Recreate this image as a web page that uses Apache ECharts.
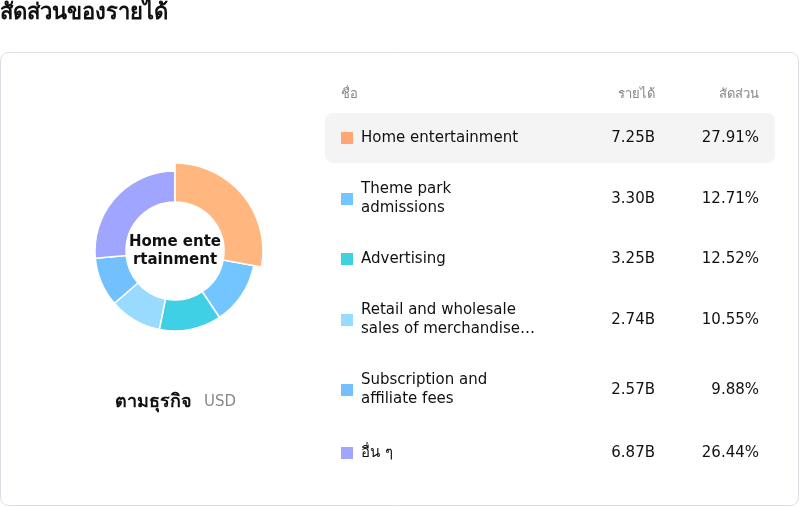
<!DOCTYPE html>
<html><head><meta charset="utf-8">
<script src="https://cdn.jsdelivr.net/npm/echarts@6/dist/echarts.min.js"></script>
<style>html,body{margin:0;padding:0;background:#fff}#c{width:800px;height:507px}</style>
</head><body><div id="c"></div>
<script>
const names = ['Home entertainment','Theme park admissions','Advertising','Retail and wholesale sales of merchandise, food and beverage','Subscription and affiliate fees','อื่น ๆ'];
const labels = [['Home entertainment'],['Theme park','admissions'],['Advertising'],['Retail and wholesale','sales of merchandise…'],['Subscription and','affiliate fees'],['อื่น ๆ']];
const revenue = ['7.25B','3.30B','3.25B','2.74B','2.57B','6.87B'];
const shares = [27.91,12.71,12.52,10.55,9.88,26.44];
const colors = ['#ffa774','#73c5ff','#40d0e6','#99dbff','#73c0ff','#a0a5ff'];
const rowY = [138,199,259,320,390,453];
const F = '"DejaVu Sans", sans-serif';
const g = [
 {type:'text',left:0,top:2,style:{text:'สัดส่วนของรายได้',font:'bold 22px '+F,fill:'#111'}},
 {type:'rect',shape:{x:0.5,y:52.5,width:798,height:453,r:8},style:{fill:'#fff',stroke:'#dddde6',lineWidth:1},z:-10},
 {type:'rect',shape:{x:325,y:113,width:450,height:50,r:8},style:{fill:'#f4f4f4'},z:-5},
 {type:'text',x:341,y:95,style:{text:'ชื่อ',font:'13px '+F,fill:'#888',verticalAlign:'middle'}},
 {type:'text',x:655,y:95,style:{text:'รายได้',font:'13px '+F,fill:'#888',align:'right',verticalAlign:'middle'}},
 {type:'text',x:759,y:95,style:{text:'สัดส่วน',font:'13px '+F,fill:'#888',align:'right',verticalAlign:'middle'}},
 {type:'text',x:153,y:402,style:{text:'ตามธุรกิจ',font:'bold 18px '+F,fill:'#111',align:'center',verticalAlign:'middle'}},
 {type:'text',x:204,y:402,style:{text:'USD',font:'15px '+F,fill:'#888',verticalAlign:'middle'}}
];
names.forEach((n,i)=>{
 const y=rowY[i];
 g.push({type:'rect',shape:{x:341,y:y-6,width:12,height:12},style:{fill:colors[i]}});
 g.push({type:'text',x:361,y:y,style:{text:labels[i].join('\n'),font:'15px '+F,fill:'#111',verticalAlign:'middle',lineHeight:19}});
 g.push({type:'text',x:655,y:y,style:{text:revenue[i],font:'15px '+F,fill:'#111',align:'right',verticalAlign:'middle'}});
 g.push({type:'text',x:759,y:y,style:{text:shares[i].toFixed(2)+'%',font:'15px '+F,fill:'#111',align:'right',verticalAlign:'middle'}});
});
const chart = echarts.init(document.getElementById('c'));
chart.setOption({
 animation:false,
 graphic:g,
 series:[{type:'pie',center:[175,251],radius:[49,80],startAngle:90,clockwise:true,
  itemStyle:{borderColor:'#fff',borderWidth:1.5},
  label:{show:false,position:'center',formatter:'Home ente\nrtainment',fontFamily:F,fontWeight:'bold',fontSize:15,color:'#111',lineHeight:18},
  emphasis:{scale:true,scaleSize:8,label:{show:true}},
  labelLine:{show:false},
  data:names.map((n,i)=>({name:n,value:shares[i],itemStyle:{color:colors[i]}}))}]
});
chart.dispatchAction({type:'highlight',seriesIndex:0,dataIndex:0});
</script></body></html>
